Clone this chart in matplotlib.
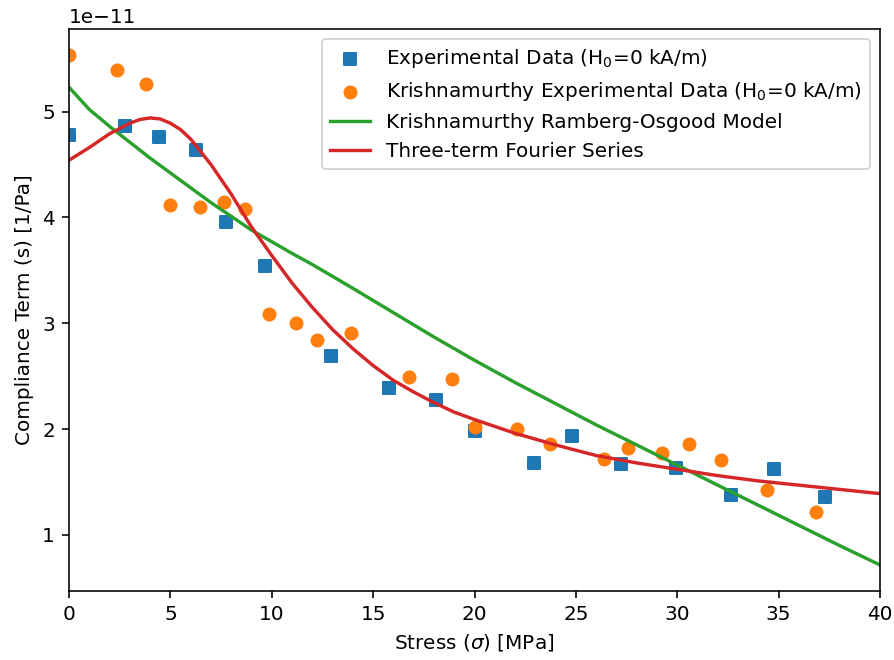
import numpy as np
import matplotlib
matplotlib.use("Agg")
import matplotlib.pyplot as plt

# experimental data (x in MPa, y in 1e-11 1/Pa)
exp_x = [0.0, 2.76, 4.45, 6.26, 7.74, 9.67, 12.92, 15.78, 18.10, 20.02,
         22.95, 24.80, 27.24, 29.96, 32.64, 34.78, 37.28]
exp_y = [4.78, 4.86, 4.76, 4.64, 3.96, 3.54, 2.69, 2.39, 2.27, 1.98,
         1.68, 1.93, 1.67, 1.63, 1.38, 1.62, 1.36]

# Krishnamurthy experimental data
kr_x = [0.0, 2.35, 3.78, 4.98, 6.46, 7.64, 8.68, 9.88, 11.19, 12.21,
        13.91, 16.77, 18.87, 20.02, 22.08, 23.73, 26.39, 27.59, 29.23,
        30.58, 32.15, 34.42, 36.84]
kr_y = [5.53, 5.39, 5.26, 4.12, 4.10, 4.15, 4.08, 3.09, 3.00, 2.84,
        2.91, 2.49, 2.47, 2.02, 2.00, 1.86, 1.72, 1.82, 1.77,
        1.86, 1.71, 1.42, 1.22]

# Ramberg-Osgood model curve
ro_x = [0, 1, 2, 3, 4, 5, 6, 7, 8, 9, 10, 11, 12, 14, 16, 18, 20, 22, 24,
        26, 28, 30, 32, 34, 36, 38, 40]
ro_y = [5.23, 5.02, 4.86, 4.71, 4.56, 4.42, 4.28, 4.14, 4.01, 3.88, 3.77,
        3.66, 3.555, 3.33, 3.10, 2.87, 2.65, 2.44, 2.24, 2.04, 1.85, 1.66,
        1.47, 1.28, 1.09, 0.90, 0.716]

# three-term Fourier series curve
fs_x = [0, 1, 2, 3, 3.5, 4, 4.5, 5, 5.5, 6, 7, 8, 9, 10, 11, 12, 13, 14,
        15, 16, 17, 18, 19, 20, 22, 24, 26, 28, 30, 32, 34, 36, 38, 40]
fs_y = [4.54, 4.66, 4.79, 4.89, 4.925, 4.94, 4.93, 4.89, 4.83, 4.74, 4.50,
        4.22, 3.91, 3.64, 3.38, 3.15, 2.94, 2.76, 2.60, 2.46, 2.35, 2.25,
        2.16, 2.09, 1.96, 1.85, 1.75, 1.68, 1.62, 1.56, 1.51, 1.47, 1.43,
        1.39]

scale = 1e-11

fig = plt.figure(figsize=(894 / 144, 660 / 144), dpi=144)
ax = fig.add_axes([69 / 894, 1 - 591 / 660, 811 / 894, 562 / 660])

ax.scatter(exp_x, np.array(exp_y) * scale, marker='s', color='C0',
           label='Experimental Data (H$_0$=0 kA/m)')
ax.scatter(kr_x, np.array(kr_y) * scale, marker='o', color='C1',
           label='Krishnamurthy Experimental Data (H$_0$=0 kA/m)')
ax.plot(ro_x, np.array(ro_y) * scale, color='C2', lw=1.7,
        label='Krishnamurthy Ramberg-Osgood Model')
ax.plot(fs_x, np.array(fs_y) * scale, color='C3', lw=1.7,
        label='Three-term Fourier Series')

ax.set_xlim(0, 40)
ax.set_ylim(0.47e-11, 5.78e-11)
ax.set_xlabel(r'Stress ($\sigma$) [MPa]')
ax.set_ylabel('Compliance Term (s) [1/Pa]')
ax.legend(loc='upper right')

fig.savefig('out.png', dpi=144)
